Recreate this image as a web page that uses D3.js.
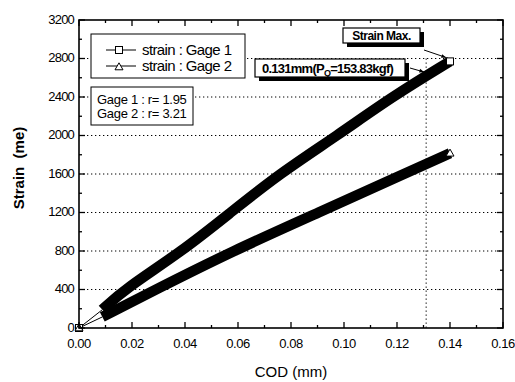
<!DOCTYPE html>
<html><head><meta charset="utf-8">
<script src="https://cdn.jsdelivr.net/npm/d3@7/dist/d3.min.js"></script>
<style>
body{margin:0;background:#fff}
svg{display:block}
text{font-family:"Liberation Sans",Arial,sans-serif;fill:#000}
</style>
</head><body>
<svg id="c" width="515" height="382"></svg>
<script>
// ---- data ----
const xTickValues = [0, 0.02, 0.04, 0.06, 0.08, 0.10, 0.12, 0.14, 0.16];
const yTickValues = [0, 400, 800, 1200, 1600, 2000, 2400, 2800, 3200];
const gridValues = [400, 800, 1200, 1600, 2000, 2400, 2800];
const codGage1 = [0, 0.0088, 0.0170, 0.0390, 0.0572, 0.0755, 0.0975, 0.118, 0.140];
const strainGage1 = [0, 190, 400, 800, 1200, 1600, 2000, 2400, 2770];
const codGage2 = [0, 0.0088, 0.0290, 0.058, 0.0905, 0.1225, 0.140];
const strainGage2 = [0, 115, 400, 800, 1200, 1600, 1815];
const seriesNames = ["strain : Gage 1", "strain : Gage 2"];
const rNotes = ["Gage 1 : r= 1.95", "Gage 2 : r= 3.21"];
const pqCod = 0.131;
const pqText = ["0.131mm(P", "Q", "=153.83kgf)"];
const maxText = "Strain Max.";

const svg = d3.select("#c");
const L = 79, R = 503, T = 20, B = 328;
const x = d3.scaleLinear().domain([0, 0.16]).range([L, R]);
const y = d3.scaleLinear().domain([0, 3200]).range([B, T]);

const g1 = codGage1.map((c, i) => [c, strainGage1[i]]);
const g2 = codGage2.map((c, i) => [c, strainGage2[i]]);

// gridlines
svg.append("g").selectAll("line").data(gridValues).join("line")
  .attr("x1", L).attr("x2", R).attr("y1", d => y(d)).attr("y2", d => y(d))
  .attr("stroke", "#000").attr("stroke-width", 1).attr("stroke-dasharray", "1.3,2.7");
// vertical line at P_Q
svg.append("line").attr("x1", x(pqCod)).attr("x2", x(pqCod))
  .attr("y1", y(2800)).attr("y2", B)
  .attr("stroke", "#000").attr("stroke-width", 1).attr("stroke-dasharray", "1.3,2.7");

const line = d3.line().x(d => x(d[0])).y(d => y(d[1]));
const smooth = d3.line().x(d => x(d[0])).y(d => y(d[1])).curve(d3.curveBasis);
function drawSeries(data) {
  svg.append("path").attr("d", line(data.slice(0, 2)))
    .attr("fill", "none").attr("stroke", "#000").attr("stroke-width", 1);
  svg.append("path").attr("d", smooth(data.slice(1)))
    .attr("fill", "none").attr("stroke", "#000").attr("stroke-width", 10.5)
    .attr("stroke-linejoin", "round").attr("stroke-linecap", "butt");
}
drawSeries(g2);
drawSeries(g1);

function square(cx, cy, s) {
  svg.append("rect").attr("x", cx - s / 2).attr("y", cy - s / 2).attr("width", s).attr("height", s)
    .attr("fill", "#fff").attr("stroke", "#000").attr("stroke-width", 1);
}
function tri(cx, cy, s) {
  const h = s * 0.87;
  svg.append("path").attr("d", `M${cx},${cy - h * 0.6}L${cx + s / 2},${cy + h * 0.4}L${cx - s / 2},${cy + h * 0.4}Z`)
    .attr("fill", "#fff").attr("stroke", "#000").attr("stroke-width", 1);
}
// end markers + origin markers
square(x(g1[g1.length - 1][0]), y(g1[g1.length - 1][1]), 7);
tri(x(g2[g2.length - 1][0]), y(g2[g2.length - 1][1]), 8);
square(x(g1[0][0]), y(g1[0][1]), 7);
tri(x(g2[0][0]), y(g2[0][1]), 8);

// frame
svg.append("rect").attr("x", L).attr("y", T).attr("width", R - L).attr("height", B - T)
  .attr("fill", "none").attr("stroke", "#000").attr("stroke-width", 1.6);

// ticks (inward, mirrored)
const xMinor = d3.range(0, 0.1601, 0.01);
const yMinor = d3.range(0, 3201, 200);
const tk = svg.append("g").attr("stroke", "#000").attr("stroke-width", 1.3);
xMinor.forEach((v, i) => {
  const len = i % 2 === 0 ? 6 : 3;
  tk.append("line").attr("x1", x(v)).attr("x2", x(v)).attr("y1", B).attr("y2", B - len);
  tk.append("line").attr("x1", x(v)).attr("x2", x(v)).attr("y1", T).attr("y2", T + len);
});
yMinor.forEach((v, i) => {
  const len = i % 2 === 0 ? 6 : 3;
  tk.append("line").attr("x1", L).attr("x2", L + len).attr("y1", y(v)).attr("y2", y(v));
  tk.append("line").attr("x1", R).attr("x2", R - len).attr("y1", y(v)).attr("y2", y(v));
});

// tick labels
svg.append("g").selectAll("text").data(xTickValues).join("text")
  .attr("x", d => x(d)).attr("y", B + 20).attr("text-anchor", "middle")
  .attr("font-size", 13).attr("letter-spacing", "-0.4px")
  .text(d => d3.format(".2f")(d));
svg.append("g").selectAll("text").data(yTickValues).join("text")
  .attr("x", L - 5).attr("y", d => y(d) - 1).attr("dy", "0.35em").attr("text-anchor", "end")
  .attr("font-size", 13).attr("letter-spacing", "-0.8px")
  .text(d => d);

// axis titles
svg.append("text").attr("x", (L + R) / 2).attr("y", 377).attr("text-anchor", "middle")
  .attr("font-size", 15).text("COD (mm)");
svg.append("text").attr("transform", `translate(24,${(T + B) / 2 - 6}) rotate(-90)`)
  .attr("text-anchor", "middle").attr("font-size", 15).attr("font-weight", "bold")
  .attr("xml:space", "preserve").style("white-space", "pre").text("Strain  (me)");

// legend
svg.append("rect").attr("x", 91).attr("y", 34).attr("width", 154).attr("height", 44)
  .attr("fill", "#fff").attr("stroke", "#000").attr("stroke-width", 1);
seriesNames.forEach((n, i) => {
  const ly = 50 + i * 16;
  svg.append("line").attr("x1", 106).attr("x2", 136).attr("y1", ly).attr("y2", ly)
    .attr("stroke", "#000").attr("stroke-width", 1);
  if (i === 0) square(119, ly, 7); else tri(119, ly + 1, 8);
  svg.append("text").attr("x", 142).attr("y", ly + 5).attr("font-size", 15)
    .attr("letter-spacing", "-0.6px").text(n);
});

// r box
svg.append("rect").attr("x", 91).attr("y", 87).attr("width", 102).attr("height", 38)
  .attr("fill", "#fff").attr("stroke", "#000").attr("stroke-width", 1);
rNotes.forEach((n, i) => {
  svg.append("text").attr("x", 97).attr("y", 104 + i * 14).attr("font-size", 13)
    .attr("letter-spacing", "-0.3px").text(n);
});

// annotation boxes with shadow
function shadowBox(bx, by, bw, bh) {
  svg.append("rect").attr("x", bx + 4).attr("y", by + 4).attr("width", bw).attr("height", bh).attr("fill", "#000");
  svg.append("rect").attr("x", bx).attr("y", by).attr("width", bw).attr("height", bh)
    .attr("fill", "#fff").attr("stroke", "#000").attr("stroke-width", 1.2);
}
shadowBox(343, 28, 77, 15);
svg.append("text").attr("x", 381.5).attr("y", 40).attr("text-anchor", "middle")
  .attr("font-size", 12).attr("font-weight", "bold").attr("letter-spacing", "-0.5px").text(maxText);

shadowBox(255, 59, 150, 18);
const t2 = svg.append("text").attr("x", 262).attr("y", 72.5).attr("font-size", 13)
  .attr("font-weight", "bold").attr("letter-spacing", "-0.75px");
t2.append("tspan").text(pqText[0]);
t2.append("tspan").attr("font-size", 9).attr("dy", 3).text(pqText[1]);
t2.append("tspan").attr("dy", -3).text(pqText[2]);

// arrows
function arrow(x1, y1, x2, y2) {
  svg.append("line").attr("x1", x1).attr("y1", y1).attr("x2", x2).attr("y2", y2)
    .attr("stroke", "#000").attr("stroke-width", 1);
  const a = Math.atan2(y2 - y1, x2 - x1), s = 5;
  const p1 = [x2 - s * Math.cos(a - 0.4), y2 - s * Math.sin(a - 0.4)];
  const p2 = [x2 - s * Math.cos(a + 0.4), y2 - s * Math.sin(a + 0.4)];
  svg.append("path").attr("d", `M${x2},${y2}L${p1[0]},${p1[1]}L${p2[0]},${p2[1]}Z`).attr("fill", "#000");
}
arrow(424, 50, 446, 57.5);
arrow(410, 68, 424, 72);
</script>
</body></html>
